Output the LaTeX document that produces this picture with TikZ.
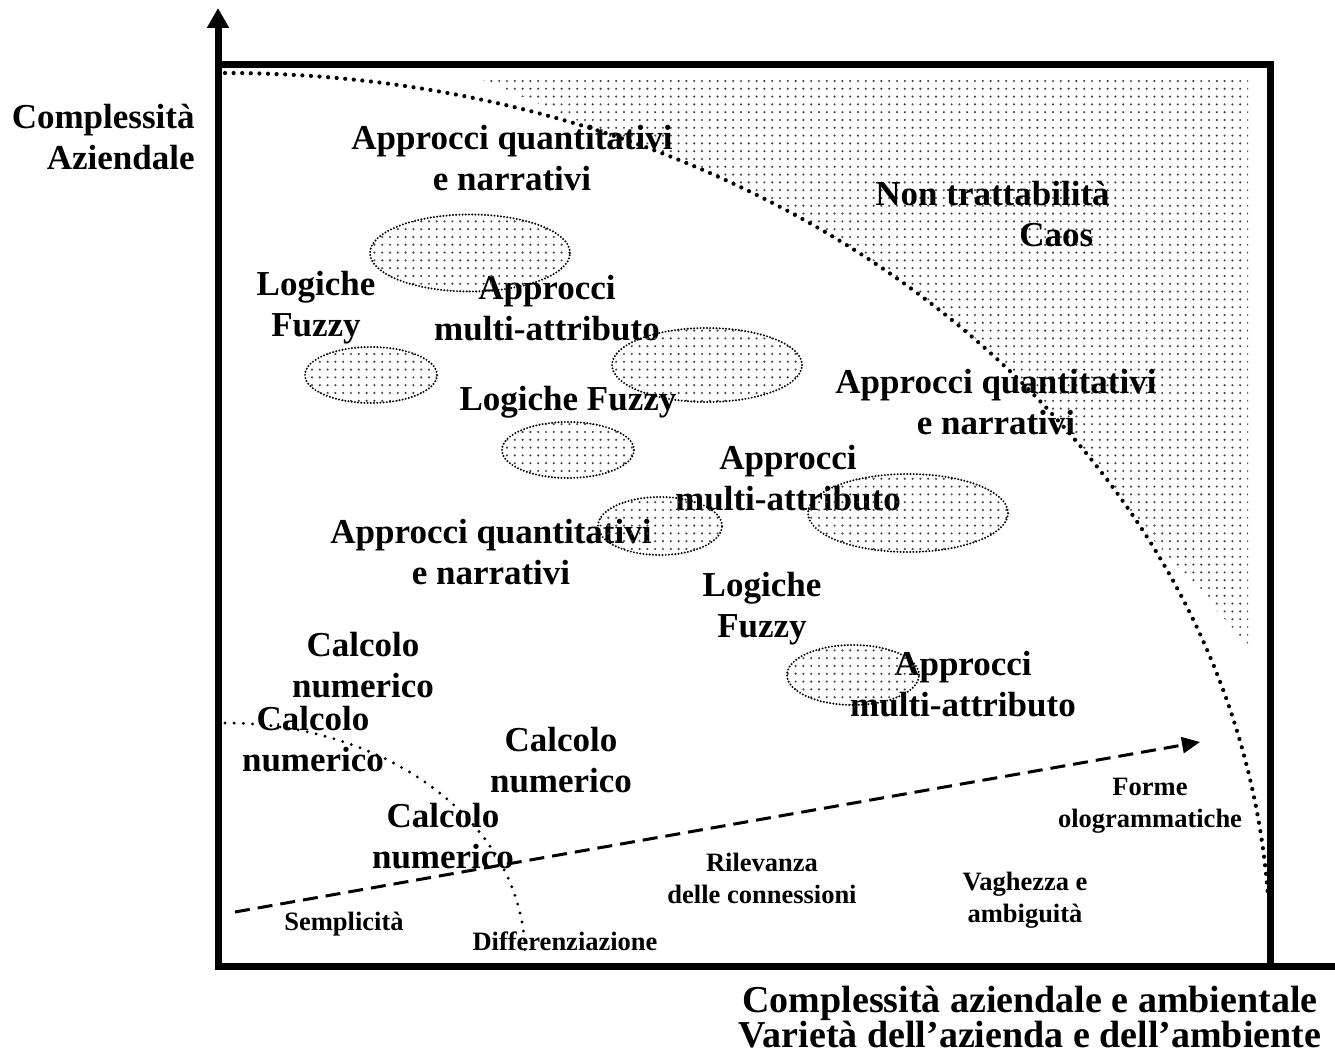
\documentclass[tikz,border=0pt]{standalone}
\usepackage{fontspec}
\setmainfont{Liberation Serif}
\usepackage{tikz}
\usetikzlibrary{arrows.meta, patterns}
\definecolor{dotGray}{HTML}{454545}
\pgfdeclarepatternformonly{fieldDots}{\pgfqpoint{-1pt}{-1pt}}{\pgfqpoint{1pt}{1pt}}{\pgfqpoint{3.9pt}{3.9pt}}{%
  \pgfpathcircle{\pgfpointorigin}{0.6pt}\pgfusepath{fill}}
\newcommand{\bigtxt}{\fontsize{17.5pt}{20.5pt}\selectfont\bfseries}
\newcommand{\smalltxt}{\fontsize{13.25pt}{16pt}\selectfont\bfseries}
\newcommand{\axistxt}{\fontsize{19pt}{17.5pt}\selectfont\bfseries}
\tikzset{
  bigLabel/.style={font=\bigtxt, align=center, inner sep=0pt},
  smallLabel/.style={font=\smalltxt, align=center, inner sep=0pt},
  fuzzyBlob/.style={pattern=fieldDots, pattern color=dotGray, draw,
    line width=1.1pt, line cap=round, dash pattern=on 0pt off 1.6pt},
  bigDots/.style={line width=2.1pt, line cap=round, dash pattern=on 0pt off 4.3pt},
  smallDots/.style={line width=1.6pt, line cap=round, dash pattern=on 0pt off 4.6pt}
}

\begin{document}
\begin{tikzpicture}[x=0.5pt, y=0.5pt]
  \useasboundingbox (0,0) rectangle (1335,1056);
  \coordinate (origin) at (218,89);

  % region of non-tractability
  \fill[pattern=fieldDots, pattern color=dotGray]
    (483,976) -- (1248,976) -- (1248,411) -- (1140,531)
    arc[start angle=28.9, end angle=69, x radius=1045, y radius=877]
    -- cycle;

  % frame and axes
  \draw[line width=3.5pt] (218,89) rectangle (1270,991);
  \draw[line width=3.5pt, -{Triangle[length=10pt, width=10.5pt]}] (origin) -- (218,1048);
  \draw[line width=3.5pt, -{Triangle[length=10pt, width=10.5pt]}] (origin) -- (1362,89);

  % labels
  \node[bigLabel, align=right, anchor=east] (yTitle) at (195,919) {Complessità\\Aziendale};
  \node[font=\axistxt, align=center, inner sep=0pt] (xTitle) at (1030,39)
    {Complessità aziendale e ambientale\\Varietà dell’azienda e dell’ambiente};

  \node[bigLabel] (quant1) at (512,898) {Approcci quantitativi\\e narrativi};
  \node[bigLabel, align=left, anchor=west] (chaos) at (875,842) {Non trattabilità\\\hspace*{72pt}Caos};
  \node[bigLabel] (fuzzy1) at (316,748) {Logiche\\Fuzzy};
  \node[bigLabel] (multi1) at (547,748) {Approcci\\multi-attributo};
  \node[bigLabel] (fuzzy2) at (568,654) {Logiche Fuzzy};
  \node[bigLabel] (quant2) at (996,654) {Approcci quantitativi\\e narrativi};
  \node[bigLabel] (multi2) at (788,578) {Approcci\\multi-attributo};
  \node[bigLabel] (quant3) at (491,504) {Approcci quantitativi\\e narrativi};
  \node[bigLabel] (fuzzy3) at (762,447) {Logiche\\Fuzzy};
  \node[bigLabel] (multi3) at (963,372) {Approcci\\multi-attributo};
  \node[bigLabel] (calc1) at (363,391) {Calcolo\\numerico};
  \node[bigLabel] (calc2) at (313,317) {Calcolo\\numerico};
  \node[bigLabel] (calc3) at (561,296) {Calcolo\\numerico};
  \node[bigLabel] (calc4) at (443,220) {Calcolo\\numerico};

  \node[smallLabel] (holo) at (1150,250) {Forme\\ologrammatiche};
  \node[smallLabel] (links) at (762,178) {Rilevanza\\delle connessioni};
  \node[smallLabel] (vague) at (1025,156) {Vaghezza e\\ambiguità};
  \node[smallLabel] (simple) at (344,132) {Semplicità};
  \node[smallLabel] (diff) at (565,115) {Differenziazione};

  % dotted clouds
  \draw[fuzzyBlob] (470,803) ellipse[x radius=100, y radius=38.5];
  \draw[fuzzyBlob] (371,681) ellipse[x radius=66, y radius=28];
  \draw[fuzzyBlob] (568,606) ellipse[x radius=66, y radius=28];
  \draw[fuzzyBlob] (707,691) ellipse[x radius=95, y radius=37];
  \draw[fuzzyBlob] (660,530) ellipse[x radius=62, y radius=29];
  \draw[fuzzyBlob] (908,543) ellipse[x radius=100, y radius=39];
  \draw[fuzzyBlob] (853,381) ellipse[x radius=66, y radius=30];

  % borders of complexity
  \draw[bigDots] (225,983) arc[start angle=90, end angle=3.5, x radius=1045, y radius=877];
  \draw[smallDots] (225,333) arc[start angle=90, end angle=0, x radius=300, y radius=232];

  % growth of complexity
  \coordinate (growStart) at (235,144);
  \coordinate (growEnd) at (1200,314);
  \draw[line width=1.5pt, dash pattern=on 7.5pt off 4pt,
    -{Triangle[length=9pt, width=8pt]}] (growStart) -- (growEnd);
\end{tikzpicture}
\end{document}
